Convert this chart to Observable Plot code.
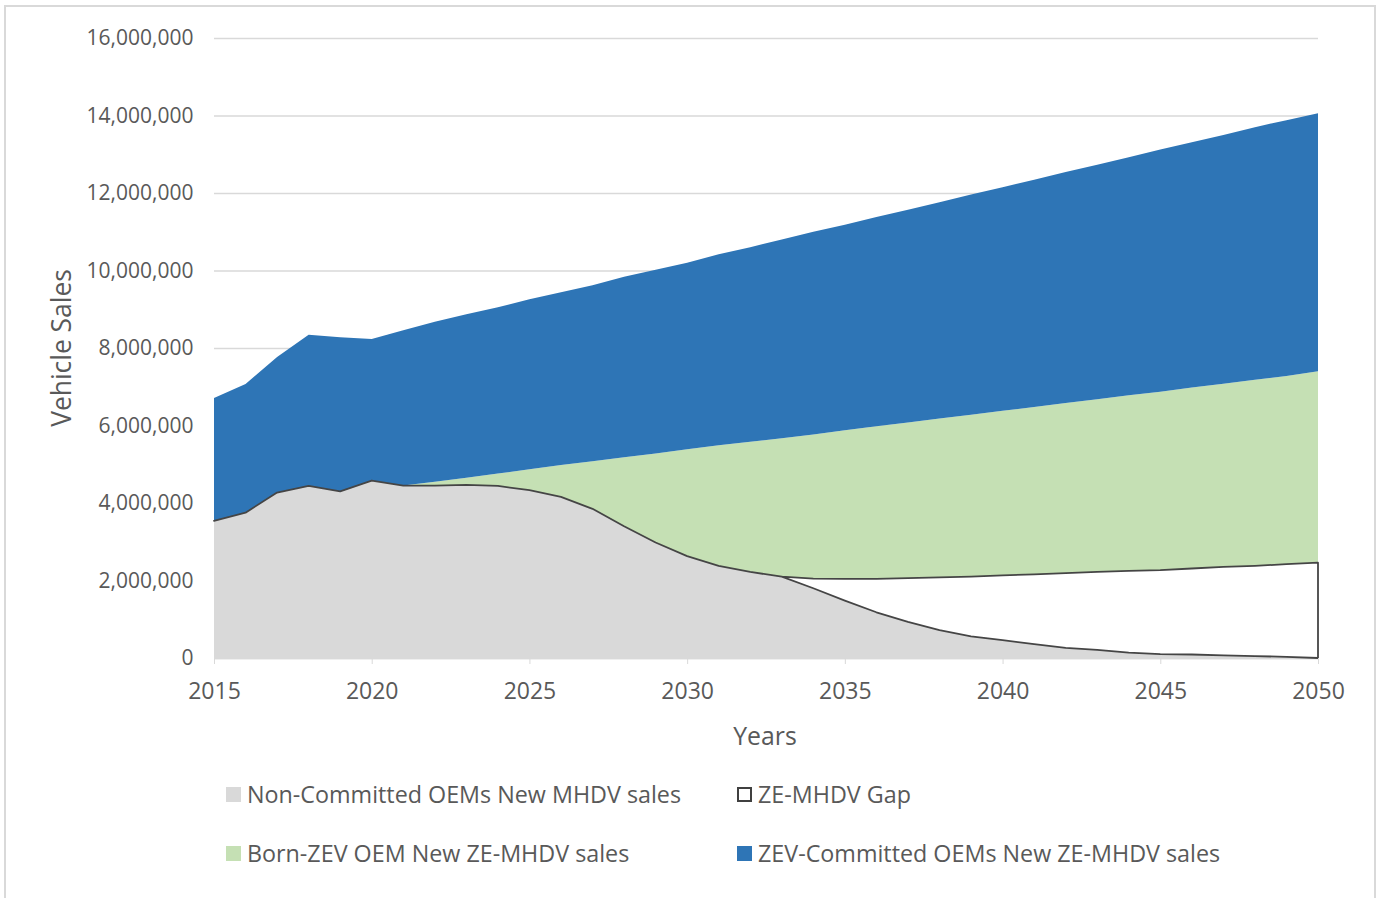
<!DOCTYPE html>
<html><head><meta charset="utf-8">
<script src="https://cdn.jsdelivr.net/npm/d3@7"></script>
<script src="https://cdn.jsdelivr.net/npm/@observablehq/plot@0.6"></script>
<style>
body{margin:0;background:#fff;width:1381px;height:898px;overflow:hidden;position:relative;}
#frame{position:absolute;left:4px;top:5px;width:1372px;height:900px;border:2px solid #d9d9d9;box-sizing:border-box;}
#chart{position:absolute;left:0;top:0;}
.txt{position:absolute;font-family:"Open Sans",sans-serif;color:#595959;white-space:nowrap;}
.leg{display:flex;align-items:center;font-size:23.3px;}
.sw{width:15px;height:15px;margin-right:6px;box-sizing:border-box;flex:none;}
</style></head><body>
<div id="frame"></div>
<div id="chart"></div>
<script>
// ---- data (millions of vehicles) ----
const years = [2015,2016,2017,2018,2019,2020,2021,2022,2023,2024,2025,2026,2027,2028,2029,2030,2031,2032,2033,2034,2035,2036,2037,2038,2039,2040,2041,2042,2043,2044,2045,2046,2047,2048,2049,2050];
const nonCommitted = [3.54,3.75,4.27,4.44,4.30,4.58,4.45,4.45,4.47,4.44,4.33,4.16,3.85,3.40,2.98,2.63,2.38,2.22,2.10,1.80,1.48,1.18,0.93,0.72,0.56,0.46,0.36,0.26,0.21,0.14,0.10,0.09,0.07,0.05,0.03,0.00];
const zeGap = [0,0,0,0,0,0,0,0,0,0,0,0,0,0,0,0,0,0,0,0.25,0.56,0.86,1.13,1.36,1.54,1.67,1.80,1.93,2.01,2.11,2.17,2.22,2.28,2.33,2.39,2.46];
const bornZev = [0,0,0,0,0,0,0,0.10,0.18,0.32,0.54,0.82,1.23,1.78,2.30,2.76,3.11,3.36,3.57,3.72,3.84,3.94,4.02,4.10,4.18,4.25,4.32,4.39,4.46,4.53,4.60,4.67,4.73,4.80,4.86,4.94];
const zevCommitted = [3.17,3.32,3.50,3.90,3.98,3.65,4.01,4.13,4.22,4.29,4.39,4.46,4.54,4.66,4.74,4.81,4.93,5.02,5.13,5.23,5.30,5.40,5.49,5.58,5.68,5.77,5.86,5.96,6.05,6.14,6.25,6.33,6.42,6.52,6.60,6.66];
const seriesNames = ["Non-Committed OEMs New MHDV sales","ZE-MHDV Gap","Born-ZEV OEM New ZE-MHDV sales","ZEV-Committed OEMs New ZE-MHDV sales"];
const seriesColors = ["#d9d9d9","#ffffff","#c5e0b4","#2e75b6"];
const yTicks = [0,2000000,4000000,6000000,8000000,10000000,12000000,14000000,16000000];
const xTicks = [2015,2020,2025,2030,2035,2040,2045,2050];
const xTitle = "Years";
const yTitle = "Vehicle Sales";

// ---- build table ----
const keys = ["nc","gap","born","zev"];
const rows = years.map((yr,i)=>({year:yr, nc:nonCommitted[i]*1e6, gap:zeGap[i]*1e6, born:bornZev[i]*1e6, zev:zevCommitted[i]*1e6}));
const stacked = d3.stack().keys(keys)(rows);
const areaRows = [];
stacked.forEach((layer,k)=>layer.forEach(p=>areaRows.push({year:p.data.year, y1:p[0], y2:p[1], series:seriesNames[k]})));
const gapRows = areaRows.filter(d=>d.series===seriesNames[1]);

const chart = Plot.plot({
  width:1381, height:760,
  marginLeft:214, marginRight:63, marginTop:38, marginBottom:102,
  x:{domain:[2015,2050], label:null},
  y:{domain:[0,16000000], label:null},
  color:{domain:seriesNames, range:seriesColors},
  style:{fontFamily:"'Open Sans', sans-serif", color:"#595959", background:"transparent"},
  marks:[
    Plot.ruleY(yTicks, {stroke:"#d9d9d9", strokeWidth:1.5}),
    Plot.areaY(areaRows, {x:"year", y1:"y1", y2:"y2", fill:"series", z:"series"}),
    Plot.ruleY([0], {stroke:"#d9d9d9", strokeWidth:1.5}),
    Plot.areaY(gapRows, {x:"year", y1:"y1", y2:"y2", fill:"none", stroke:"#454545", strokeWidth:1.8}),
    Plot.axisX({ticks:xTicks, tickFormat:d=>String(d), tickSize:6, tickPadding:18, stroke:"#d9d9d9", fill:"#595959", fontSize:23, label:null}),
    Plot.axisY({ticks:yTicks, tickFormat:d3.format(","), tickSize:0, tickPadding:21, fill:"#595959", fontSize:21, label:null})
  ]
});
document.getElementById("chart").appendChild(chart);

function addText(html, css){const d=document.createElement("div"); d.className="txt"; d.innerHTML=html; Object.assign(d.style, css); document.body.appendChild(d); return d;}
addText(xTitle, {left:"765px", top:"735px", fontSize:"24.8px", transform:"translate(-50%,-50%)"});
addText(yTitle, {left:"61px", top:"348px", fontSize:"26.4px", transform:"translate(-50%,-50%) rotate(-90deg)"});
const legPos = [[226,794],[737,794],[226,853],[737,853]];
seriesNames.forEach((name,i)=>{
  const d = addText("", {left:legPos[i][0]+"px", top:legPos[i][1]+"px", transform:"translateY(-50%)"});
  d.classList.add("leg");
  const sw=document.createElement("span"); sw.className="sw";
  sw.style.background = seriesColors[i];
  if(i===1) sw.style.border="2px solid #404040";
  const t=document.createElement("span"); t.textContent=name;
  d.appendChild(sw); d.appendChild(t);
});
</script>
</body></html>
